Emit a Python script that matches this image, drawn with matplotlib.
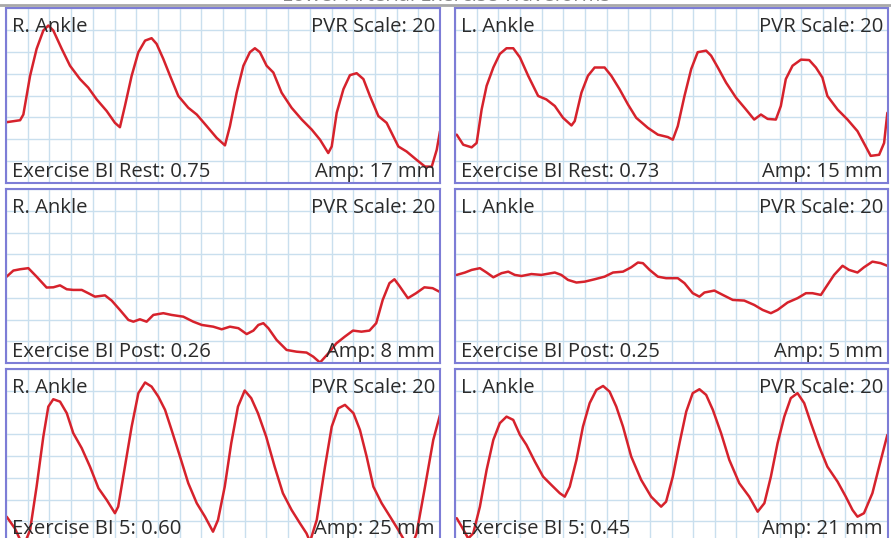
import matplotlib
matplotlib.use("Agg")
import matplotlib.pyplot as plt

# PVR waveforms, x in grid divisions (0-20), y in grid divisions (0-8)
r_rest_t = [0.03, 0.65, 0.80, 1.11, 1.41, 1.72, 1.95, 2.18, 2.57, 2.95, 3.41, 3.79, 4.18, 4.64, 5.02, 5.25,
            5.48, 5.79, 6.10, 6.41, 6.71, 6.94, 7.25, 7.56, 7.94, 8.40, 8.79, 9.25, 9.71, 10.09, 10.32, 10.63,
            10.94, 11.24, 11.47, 11.70, 12.01, 12.32, 12.70, 13.16, 13.63, 14.09, 14.47, 14.85, 15.01, 15.24,
            15.55, 15.85, 16.16, 16.47, 16.77, 17.16, 17.54, 17.77, 18.08, 18.46, 18.92, 19.31, 19.62, 19.85, 20.00]
r_rest_v = [2.78, 2.87, 3.13, 4.90, 6.13, 6.97, 7.20, 6.97, 6.13, 5.36, 4.75, 4.36, 3.82, 3.29, 2.75, 2.55,
            3.52, 4.90, 5.98, 6.51, 6.62, 6.36, 5.67, 4.90, 3.98, 3.44, 3.13, 2.60, 2.06, 1.72, 2.60, 4.13,
            5.36, 5.98, 6.16, 5.98, 5.36, 5.05, 4.13, 3.44, 2.90, 2.44, 1.98, 1.37, 1.67, 3.21,
            4.29, 4.93, 5.02, 4.75, 3.98, 3.06, 2.75, 2.29, 1.67, 1.44, 1.06, 0.75, 0.75, 1.52, 2.37]

l_rest_t = [0.08, 0.38, 0.77, 1.00, 1.23, 1.46, 1.77, 2.07, 2.38, 2.69, 3.00, 3.38, 3.84, 4.22, 4.61, 4.99,
            5.38, 5.53, 5.84, 6.14, 6.45, 6.91, 7.22, 7.60, 7.99, 8.37, 8.91, 9.37, 9.83, 10.06, 10.29, 10.60,
            10.91, 11.21, 11.60, 11.83, 12.14, 12.52, 12.98, 13.44, 13.82, 14.13, 14.44, 14.82, 15.05, 15.28,
            15.59, 15.98, 16.36, 16.67, 16.97, 17.20, 17.67, 18.13, 18.59, 18.97, 19.20, 19.59, 19.82, 19.97]
l_rest_v = [2.21, 1.75, 1.63, 1.83, 3.36, 4.44, 5.28, 5.90, 6.16, 6.16, 5.74, 4.90, 3.98, 3.82, 3.52, 2.98,
            2.63, 2.83, 4.13, 4.90, 5.28, 5.28, 4.90, 4.29, 3.59, 2.98, 2.52, 2.21, 2.10, 1.98, 2.60, 3.98,
            5.21, 5.98, 6.05, 5.82, 5.28, 4.59, 3.90, 3.36, 2.90, 3.13, 2.93, 2.90, 3.52, 4.75,
            5.36, 5.64, 5.62, 5.28, 4.82, 3.98, 3.36, 2.90, 2.37, 1.67, 1.24, 1.29, 1.83, 3.21]

r_post_t = [0.03, 0.34, 0.65, 1.03, 1.41, 1.87, 2.18, 2.49, 2.80, 3.10, 3.49, 3.79, 4.10, 4.56, 4.87, 5.25,
            5.64, 5.87, 6.17, 6.48, 6.79, 7.25, 7.63, 8.17, 8.63, 9.02, 9.55, 9.94, 10.32, 10.71, 11.09, 11.40,
            11.63, 11.86, 12.09, 12.47, 12.93, 13.39, 13.85, 14.16, 14.47, 14.85, 15.22, 15.61, 15.99, 16.38,
            16.75, 17.06, 17.36, 17.67, 17.90, 18.13, 18.52, 18.90, 19.28, 19.66, 19.97]
r_post_v = [3.97, 4.25, 4.31, 4.36, 3.97, 3.47, 3.48, 3.57, 3.39, 3.36, 3.36, 3.21, 3.05, 3.11, 2.87, 2.44,
            1.98, 1.90, 2.01, 1.90, 2.21, 2.29, 2.21, 2.13, 1.90, 1.75, 1.67, 1.55, 1.67, 1.60, 1.33, 1.49,
            1.75, 1.83, 1.60, 1.06, 0.60, 0.52, 0.48, 0.29, 0.02, 0.44, 0.90, 1.21, 1.49, 1.44,
            1.49, 1.83, 2.90, 3.67, 3.85, 3.54, 2.98, 3.21, 3.48, 3.44, 3.28]

l_post_t = [0.08, 0.46, 0.77, 1.15, 1.46, 1.77, 2.15, 2.46, 2.76, 3.07, 3.53, 3.99, 4.61, 4.91, 5.22, 5.61,
            5.99, 6.45, 6.91, 7.30, 7.76, 8.14, 8.45, 8.68, 8.99, 9.37, 9.75, 10.29, 10.60, 10.98, 11.29, 11.52,
            11.98, 12.37, 12.83, 13.36, 13.82, 14.21, 14.59, 14.90, 15.36, 15.82, 16.21, 16.51, 16.90, 17.13,
            17.51, 17.90, 18.20, 18.59, 18.89, 19.28, 19.66, 19.97]
l_post_v = [4.05, 4.16, 4.28, 4.36, 4.16, 3.94, 4.13, 4.20, 4.05, 4.00, 4.09, 4.05, 4.16, 4.05, 3.82, 3.70,
            3.74, 3.85, 3.97, 4.16, 4.20, 4.40, 4.62, 4.59, 4.28, 3.97, 3.90, 3.90, 3.67, 3.21, 3.05, 3.24,
            3.33, 3.13, 2.90, 2.87, 2.67, 2.44, 2.29, 2.44, 2.78, 2.98, 3.21, 3.21, 3.13, 3.48,
            4.05, 4.47, 4.28, 4.16, 4.40, 4.66, 4.59, 4.47]

r_ex5_t = [0.03, 0.41, 0.80, 1.11, 1.41, 1.72, 1.95, 2.18, 2.49, 2.80, 3.10, 3.49, 3.87, 4.26, 4.64, 5.02,
           5.17, 5.48, 5.79, 6.10, 6.41, 6.71, 7.02, 7.33, 7.63, 8.02, 8.40, 8.79, 9.17, 9.54, 9.77, 10.08,
           10.38, 10.69, 11.00, 11.30, 11.61, 11.99, 12.38, 12.76, 13.16, 13.55, 13.85, 14.01, 14.32, 14.70,
           15.01, 15.31, 15.62, 16.01, 16.31, 16.62, 16.93, 17.31, 17.70, 18.08, 18.39, 18.69, 18.92, 19.31,
           19.69, 20.00]
r_ex5_v = [1.21, 0.67, -0.17, 0.60, 2.59, 4.89, 6.27, 6.61, 6.50, 5.97, 5.05, 4.36, 3.51, 2.52, 1.98, 1.37,
           1.67, 3.51, 5.35, 6.89, 7.38, 7.19, 6.73, 6.12, 5.20, 3.97, 2.75, 1.83, 1.21, 0.52, 1.06, 2.59,
           4.59, 6.27, 7.01, 6.66, 5.97, 4.89, 3.51, 2.29, 1.52, 0.90, 0.44, 0.06, 1.06, 3.51,
           5.35, 6.19, 6.35, 5.97, 5.20, 3.97, 2.59, 1.83, 1.21, 0.60, 0.06, -0.17, 0.44, 2.59,
           4.74, 5.89]

l_ex5_t = [0.08, 0.31, 0.61, 0.84, 1.15, 1.46, 1.77, 2.07, 2.38, 2.69, 3.00, 3.30, 3.69, 4.07, 4.45, 4.84,
           5.07, 5.30, 5.61, 5.91, 6.22, 6.53, 6.84, 7.14, 7.45, 7.76, 8.14, 8.60, 9.06, 9.52, 9.75, 10.06,
           10.37, 10.68, 10.98, 11.29, 11.60, 11.91, 12.29, 12.67, 13.13, 13.59, 13.98, 14.29, 14.59, 14.90,
           15.21, 15.51, 15.82, 16.13, 16.44, 16.82, 17.20, 17.67, 18.05, 18.36, 18.59, 18.89, 19.28, 19.59,
           19.97]
l_ex5_v = [1.14, 0.75, 0.21, 0.44, 1.67, 3.36, 4.74, 5.51, 5.81, 5.66, 4.97, 4.51, 3.74, 3.05, 2.67, 2.29,
           2.13, 2.59, 3.82, 5.35, 6.43, 7.04, 7.22, 6.96, 6.27, 5.35, 3.97, 2.90, 2.13, 1.67, 1.90, 3.05,
           4.59, 6.04, 6.89, 7.07, 6.81, 6.12, 5.05, 3.82, 2.75, 2.13, 1.44, 1.83, 3.05, 4.59,
           5.81, 6.66, 6.89, 6.43, 5.51, 4.44, 3.51, 2.82, 2.13, 1.52, 1.21, 1.37, 2.29, 3.51,
           4.97]

sides = ["R. Ankle", "L. Ankle"]
bi_labels = [["Exercise BI Rest: 0.75", "Exercise BI Rest: 0.73"],
             ["Exercise BI Post: 0.26", "Exercise BI Post: 0.25"],
             ["Exercise BI 5: 0.60", "Exercise BI 5: 0.45"]]
amp_labels = [["Amp: 17 mm", "Amp: 15 mm"],
              ["Amp: 8 mm", "Amp: 5 mm"],
              ["Amp: 25 mm", "Amp: 21 mm"]]
traces = [[(r_rest_t, r_rest_v), (l_rest_t, l_rest_v)],
          [(r_post_t, r_post_v), (l_post_t, l_post_v)],
          [(r_ex5_t, r_ex5_v), (l_ex5_t, l_ex5_v)]]

W, H = 891, 538
plt.rcParams["font.family"] = ["Open Sans", "DejaVu Sans"]
fig = plt.figure(figsize=(W / 100, H / 100), dpi=100)

# panel boxes in pixels (left, right) / (top, bottom); last row runs off the bottom edge
cols = [(6, 440), (455, 888)]
rows = [(8, 183), (189, 363), (369, 543)]
bottom_pad = [6, 6, 9]

txt_col = "#2b2b2b"
fs = 14.6

# grey rule and the clipped title above the panels
fig.add_artist(plt.Line2D([0, 1], [1 - 5 / H, 1 - 5 / H], color="#a8a8a8", lw=2))
fig.text(0.5, 1 - 0.6 / H, "Lower Arterial Exercise Waveforms", ha="center", va="baseline",
         fontsize=fs, color="#8a8a8a")

for i, (top, bot) in enumerate(rows):
    for j, (left, right) in enumerate(cols):
        ax = fig.add_axes([left / W, 1 - bot / H, (right - left) / W, (bot - top) / H])
        t, v = traces[i][j]
        ax.plot(t, v, color="#d6222c", lw=1.8, solid_joinstyle="round", solid_capstyle="round")
        ax.set_xlim(0, 20)
        ax.set_ylim(0, 8)
        ax.set_xticks(range(21))
        ax.set_yticks(range(9))
        ax.tick_params(length=0, labelbottom=False, labelleft=False)
        ax.grid(True, color="#c9dfee", lw=1)
        ax.set_axisbelow(True)
        for s in ax.spines.values():
            s.set_color("#7d7dd6")
            s.set_linewidth(1.5)
        ax.annotate(sides[j], xy=(0, 1), xycoords="axes fraction", xytext=(6, -24),
                    textcoords="offset pixels", ha="left", va="baseline", fontsize=fs, color=txt_col)
        ax.annotate("PVR Scale: 20", xy=(1, 1), xycoords="axes fraction", xytext=(-5, -24),
                    textcoords="offset pixels", ha="right", va="baseline", fontsize=fs, color=txt_col)
        ax.annotate(bi_labels[i][j], xy=(0, 0), xycoords="axes fraction", xytext=(6, bottom_pad[i]),
                    textcoords="offset pixels", ha="left", va="baseline", fontsize=fs, color=txt_col)
        ax.annotate(amp_labels[i][j], xy=(1, 0), xycoords="axes fraction", xytext=(-5, bottom_pad[i]),
                    textcoords="offset pixels", ha="right", va="baseline", fontsize=fs, color=txt_col)

fig.savefig("out.png", dpi=100)
